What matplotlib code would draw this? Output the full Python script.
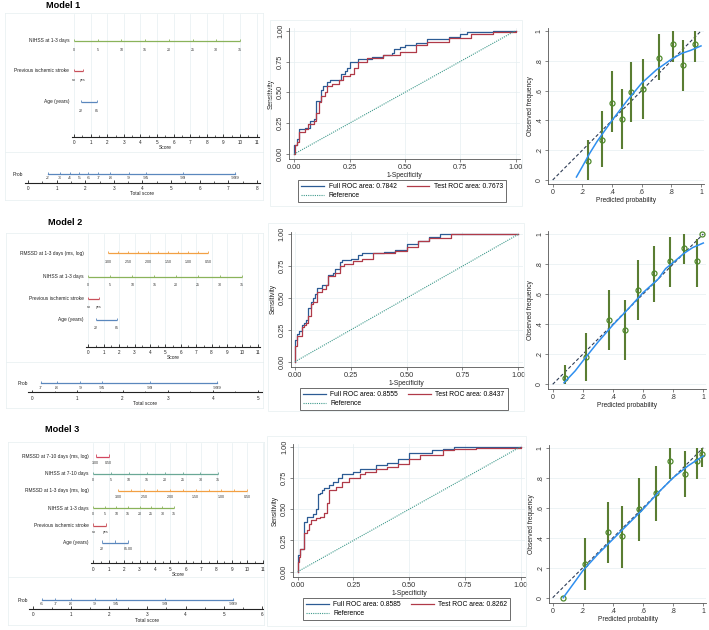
import numpy as np
import matplotlib.pyplot as plt
from matplotlib.patches import Rectangle

plt.rcParams['font.family'] = ['Liberation Sans', 'DejaVu Sans']

# ---------------- data ----------------
nihss_labels = ["0", "5", "10", "15", "20", "25", "30", "35"]
rmssd_labels = ["3.00", "", "2.50", "", "2.00", "", "1.50", "", "1.00", "", "0.50"]

# Model 1 nomogram (scores)
m1_nihss = [0, 1.43, 2.86, 4.29, 5.71, 7.14, 8.57, 10.0]
m1_prev = [0, 0.55]
m1_age = [0.42, 1.40]
m1_prob_labels = [".2", ".3", ".4", ".5", ".6", ".7", ".8", ".9", ".95", ".99", ".999"]
m1_prob_total = [0.685, 1.11, 1.46, 1.78, 2.10, 2.45, 2.88, 3.52, 4.11, 5.41, 7.24]

# Model 2 nomogram
m2_rmssd = [1.3, 1.95, 2.6, 3.25, 3.9, 4.55, 5.2, 5.85, 6.5, 7.15, 7.8]
m2_nihss = [0, 1.43, 2.86, 4.29, 5.71, 7.14, 8.57, 10.0]
m2_prev = [0, 0.70]
m2_age = [0.50, 1.88]
m2_prob_labels = [".7", ".8", ".9", ".95", ".99", ".999"]
m2_prob_total = [0.19, 0.54, 1.06, 1.54, 2.61, 4.10]

# Model 3 nomogram
m3_rmssd710 = [0.15, 1.0]
m3_nihss710 = [0, 1.16, 2.32, 3.48, 4.64, 5.80, 6.96, 8.12]
m3_rmssd13 = [1.62, 2.46, 3.30, 4.13, 4.97, 5.81, 6.65, 7.49, 8.32, 9.16, 10.0]
m3_nihss13 = [0, 0.75, 1.50, 2.25, 3.00, 3.74, 4.49, 5.24]
m3_prev = [0, 0.82]
m3_age = [0.58, 1.41, 2.27]
m3_prob_labels = [".6", ".7", ".8", ".9", ".95", ".99", ".999"]
m3_prob_total = [0.236, 0.584, 1.0, 1.63, 2.18, 3.46, 5.24]

# ROC curves (1-specificity, sensitivity)
roc1_full_fpr = [0, 0, 0.01, 0.02, 0.05, 0.07, 0.09, 0.10, 0.12, 0.13, 0.15, 0.16, 0.21, 0.23, 0.24, 0.25,
                 0.29, 0.35, 0.40, 0.44, 0.45, 0.48, 0.50, 0.55, 0.60, 0.70, 0.75, 0.78, 0.90, 1.0]
roc1_full_tpr = [0, 0.07, 0.12, 0.20, 0.21, 0.27, 0.28, 0.43, 0.52, 0.55, 0.58, 0.60, 0.65, 0.67, 0.70, 0.75,
                 0.77, 0.79, 0.80, 0.82, 0.85, 0.87, 0.88, 0.90, 0.93, 0.95, 0.97, 0.99, 1.0, 1.0]
roc1_test_fpr = [0, 0.005, 0.01, 0.02, 0.05, 0.06, 0.09, 0.10, 0.11, 0.12, 0.14, 0.15, 0.17, 0.20, 0.22,
                 0.25, 0.27, 0.29, 0.33, 0.40, 0.48, 0.55, 0.60, 0.70, 0.80, 0.90, 1.0]
roc1_test_tpr = [0.0, 0.07, 0.10, 0.18, 0.20, 0.24, 0.27, 0.33, 0.42, 0.47, 0.50, 0.55, 0.57, 0.60, 0.63,
                 0.65, 0.70, 0.75, 0.78, 0.80, 0.83, 0.88, 0.91, 0.94, 0.97, 0.99, 1.0]

roc2_full_fpr = [0, 0, 0.01, 0.02, 0.03, 0.04, 0.05, 0.06, 0.07, 0.08, 0.09, 0.10, 0.12, 0.15, 0.17, 0.18,
                 0.20, 0.21, 0.25, 0.28, 0.30, 0.40, 0.45, 0.50, 0.55, 0.60, 0.65, 1.0]
roc2_full_tpr = [0, 0.17, 0.22, 0.24, 0.29, 0.30, 0.33, 0.42, 0.47, 0.50, 0.53, 0.58, 0.60, 0.68, 0.70, 0.73,
                 0.78, 0.80, 0.81, 0.84, 0.85, 0.86, 0.88, 0.92, 0.95, 0.98, 1.0, 1.0]
roc2_test_fpr = [0, 0, 0.01, 0.03, 0.04, 0.05, 0.06, 0.07, 0.08, 0.10, 0.12, 0.14, 0.15, 0.18, 0.20, 0.22,
                 0.26, 0.30, 0.35, 0.45, 0.50, 0.55, 0.60, 0.70, 1.0]
roc2_test_tpr = [0, 0.12, 0.20, 0.27, 0.29, 0.30, 0.36, 0.45, 0.47, 0.55, 0.57, 0.60, 0.67, 0.70, 0.75, 0.77,
                 0.79, 0.81, 0.85, 0.87, 0.90, 0.95, 0.97, 1.0, 1.0]

roc3_full_fpr = [0, 0, 0.01, 0.03, 0.04, 0.07, 0.08, 0.09, 0.10, 0.11, 0.12, 0.14, 0.16, 0.18, 0.20, 0.25,
                 0.28, 0.35, 0.40, 0.45, 0.50, 0.60, 0.65, 0.70, 1.0]
roc3_full_tpr = [0, 0.13, 0.18, 0.40, 0.44, 0.46, 0.50, 0.62, 0.63, 0.65, 0.67, 0.69, 0.72, 0.75, 0.78, 0.80,
                 0.82, 0.85, 0.87, 0.90, 0.95, 0.97, 0.98, 1.0, 1.0]
roc3_test_fpr = [0, 0, 0.005, 0.01, 0.03, 0.04, 0.05, 0.06, 0.08, 0.10, 0.12, 0.13, 0.14, 0.17, 0.20, 0.23,
                 0.28, 0.30, 0.35, 0.40, 0.45, 0.50, 0.55, 0.65, 0.70, 0.80, 1.0]
roc3_test_tpr = [0, 0.08, 0.12, 0.18, 0.31, 0.33, 0.38, 0.41, 0.43, 0.44, 0.47, 0.55, 0.65, 0.68, 0.72, 0.75,
                 0.78, 0.80, 0.82, 0.84, 0.86, 0.90, 0.93, 0.97, 0.98, 0.99, 1.0]

roc_auc = [("0.7842", "0.7673"), ("0.8555", "0.8437"), ("0.8585", "0.8262")]

# Calibration
nan = np.nan
cal1_pred = [0.24, 0.33, 0.40, 0.47, 0.53, 0.61, 0.72, 0.81, 0.88, 0.96]
cal1_obs = [0.13, 0.27, 0.52, 0.41, 0.59, 0.61, 0.82, 0.91, 0.77, 0.91]
cal1_lo = [0.00, 0.09, 0.32, 0.21, 0.39, 0.41, 0.67, 0.79, 0.60, 0.79]
cal1_hi = [0.27, 0.46, 0.73, 0.61, 0.79, 0.81, 0.98, 1.00, 0.94, 1.00]
low1_x = [0.16, 0.20, 0.25, 0.30, 0.35, 0.40, 0.50, 0.60, 0.70, 0.80, 0.87, 0.93, 1.00]
low1_y = [0.02, 0.09, 0.18, 0.26, 0.33, 0.40, 0.53, 0.65, 0.74, 0.81, 0.85, 0.87, 0.90]

cal2_pred = [0.08, 0.22, 0.375, 0.48, 0.565, 0.67, 0.78, 0.875, 0.955, 0.99]
cal2_obs = [0.04, 0.18, 0.43, 0.36, 0.63, 0.74, 0.82, 0.91, 0.82, 1.00]
cal2_lo = [0.00, 0.02, 0.23, 0.16, 0.43, 0.55, 0.65, 0.80, 0.65, nan]
cal2_hi = [0.13, 0.34, 0.63, 0.56, 0.83, 0.92, 0.98, 1.00, 0.97, nan]
low2_x = [0.075, 0.15, 0.20, 0.30, 0.40, 0.50, 0.60, 0.70, 0.75, 0.80, 0.87, 0.93, 1.00]
low2_y = [0.01, 0.09, 0.155, 0.28, 0.395, 0.50, 0.61, 0.70, 0.77, 0.81, 0.87, 0.91, 0.94]

cal3_pred = [0.07, 0.215, 0.37, 0.46, 0.57, 0.685, 0.78, 0.88, 0.955, 0.99]
cal3_obs = [0.00, 0.225, 0.435, 0.41, 0.59, 0.695, 0.91, 0.825, 0.91, 0.955]
cal3_lo = [nan, 0.05, 0.23, 0.20, 0.38, 0.51, 0.79, 0.67, 0.79, 0.87]
cal3_hi = [nan, 0.40, 0.64, 0.61, 0.80, 0.88, 1.00, 0.98, 1.00, 1.00]
low3_x = [0.07, 0.15, 0.20, 0.30, 0.40, 0.50, 0.60, 0.70, 0.80, 0.90, 1.00]
low3_y = [0.00, 0.11, 0.18, 0.29, 0.39, 0.49, 0.59, 0.70, 0.80, 0.88, 0.945]

# ---------------- colours ----------------
c_green = "#8ab35a"
c_red = "#c9505a"
c_blue = "#5a87bd"
c_orange = "#f2a044"
c_teal = "#6aa896"
c_pink = "#d2455e"
border = "#e6eef0"
gridc = "#e6eff1"

W, H = 709, 630
fig = plt.figure(figsize=(W / 100, H / 100), dpi=100)


def px_axes(left, top, right, bottom):
    return fig.add_axes([left / W, 1 - bottom / H, (right - left) / W, (bottom - top) / H])


def data_axes(x0, x1, y0, y1, xlim, ylim):
    """axes placed so that data 0/1 fall on the given pixels"""
    sx, sy = x1 - x0, y0 - y1
    ax = px_axes(x0 + xlim[0] * sx, y0 - ylim[1] * sy, x0 + xlim[1] * sx, y0 - ylim[0] * sy)
    ax.set_xlim(xlim)
    ax.set_ylim(ylim)
    return ax


def frame(left, top, right, bottom, color=border):
    fig.add_artist(Rectangle((left / W, 1 - bottom / H), (right - left) / W, (bottom - top) / H,
                             transform=fig.transFigure, fill=False, ec=color, lw=0.5))


def nomo_axes(left, top, right, bottom, s0, su):
    ax = px_axes(left, top, right, bottom)
    ax.set_xlim((left - s0) / su, (right - s0) / su)
    ax.set_ylim(bottom, top)
    ax.set_xticks([])
    ax.set_yticks([])
    for sp in ax.spines.values():
        sp.set_color(border)
        sp.set_linewidth(0.5)
    return ax


def nomogram(lay, rows, prob_labels, prob_total, total_max):
    ax = nomo_axes(lay['left'], lay['top'], lay['right'], lay['mid'], lay['s0'], lay['su'])
    for k in range(12):
        ax.plot([k, k], [lay['top'] + 1, lay['score_y']], color=gridc, lw=0.5, zorder=0)
    for (label, color, pos, labs), y in zip(rows, lay['rows_y']):
        ax.plot([pos[0], pos[-1]], [y, y], color=color, lw=0.9, solid_capstyle='butt')
        ax.vlines(pos, y - 2.2, y, color=color, lw=0.6)
        for p, t in zip(pos, labs):
            ax.text(p, y + lay['off'], t, ha='center', va='center', fontsize=2.6, color='#333333')
        ax.text(-0.28, y, label, ha='right', va='center', fontsize=3.5, color='#222222')
    sy = lay['score_y']
    ax.plot([-0.15, 11.15], [sy, sy], color='#222222', lw=0.8)
    ax.vlines(np.arange(0, 12), sy - 3, sy, color='#222222', lw=0.6)
    ax.vlines(np.arange(0.5, 11, 1), sy - 1.8, sy, color='#222222', lw=0.5)
    for k in range(12):
        ax.text(k, sy + 6, str(k), ha='center', va='center', fontsize=3.3, color='#222222')
    ax.text(5.5, sy + 11, "Score", ha='center', va='center', fontsize=3.5, color='#222222')

    bx = nomo_axes(lay['left'], lay['mid'], lay['right'], lay['bottom'], lay['t0'], lay['tu'])
    py = lay['prob_y']
    bx.plot([prob_total[0], prob_total[-1]], [py, py], color=c_blue, lw=0.9)
    bx.vlines(prob_total, py - 2, py, color=c_blue, lw=0.6)
    for p, t in zip(prob_total, prob_labels):
        bx.text(p, py + 4.3, t, ha='center', va='center', fontsize=3.2, color='#222222')
    bx.text((lay['prob_x'] - lay['t0']) / lay['tu'], py, "Prob", ha='left', va='center',
            fontsize=3.5, color='#222222')
    ty = lay['total_y']
    bx.plot([-0.1, total_max + 0.1], [ty, ty], color='#222222', lw=0.8)
    bx.vlines(np.arange(0, total_max + 1), ty - 2.8, ty, color='#222222', lw=0.6)
    bx.vlines(np.arange(0.5, total_max, 1), ty - 1.6, ty, color='#222222', lw=0.5)
    for k in range(total_max + 1):
        bx.text(k, ty + 6, str(k), ha='center', va='center', fontsize=3.3, color='#222222')
    bx.text(total_max / 2, ty + 11, "Total score", ha='center', va='center', fontsize=3.5, color='#222222')
    fig.text(lay['title_x'] / W, 1 - lay['title_y'] / H, lay['title'], ha='center', va='center',
             fontsize=6.6, fontweight='bold')


def style_axes(ax, ylabel, xlabel, lsize):
    for s in ['top', 'right']:
        ax.spines[s].set_visible(False)
    for s in ['left', 'bottom']:
        ax.spines[s].set_color('#555555')
        ax.spines[s].set_linewidth(0.6)
    ax.tick_params(length=2.5, width=0.5, color='#555555', labelsize=lsize, pad=1.2, labelcolor='#333333')
    ax.tick_params(axis='y', labelrotation=90)
    for t in ax.get_yticklabels():
        t.set_va('center')
    ax.set_ylabel(ylabel, fontsize=4.8, labelpad=1.5, color='#222222')
    ax.set_xlabel(xlabel, fontsize=4.8, labelpad=0.5, color='#222222')
    ax.set_axisbelow(True)


def roc_plot(lay, full_fpr, full_tpr, test_fpr, test_tpr, aucs):
    x0, x1, y0, y1 = lay['x0'], lay['x1'], lay['y0'], lay['y1']
    xlim = ((lay['sx'] - x0) / (x1 - x0), 1.02)
    ylim = (-(lay['sy'] - y0) / (y0 - y1), 1.02)
    ax = data_axes(x0, x1, y0, y1, xlim, ylim)
    ticks = [0, 0.25, 0.5, 0.75, 1.0]
    ax.set_xticks(ticks)
    ax.set_yticks(ticks)
    ax.set_xticklabels(["%.2f" % t for t in ticks])
    ax.set_yticklabels(["%.2f" % t for t in ticks])
    ax.grid(color=gridc, lw=0.5)
    h1, = ax.step(full_fpr, full_tpr, where='post', color='#2c5b94', lw=0.9)
    h2, = ax.step(test_fpr, test_tpr, where='post', color='#b03a48', lw=0.9)
    h3, = ax.plot([0, 1], [0, 1], color='#3f9a8c', lw=0.8, linestyle=(0, (1, 1)))
    style_axes(ax, "Sensitivity", "1-Specificity", 5.3)
    lg = ax.legend([h1, h3, h2], ["Full ROC area: " + aucs[0], "Reference", "Test ROC area: " + aucs[1]],
                   ncol=2, loc='upper left', bbox_to_anchor=(lay['lx'] / W, 1 - lay['ly'] / H),
                   bbox_transform=fig.transFigure, fontsize=4.9, handlelength=3.3, handletextpad=0.7,
                   columnspacing=1.5, borderpad=0.45, labelspacing=0.3, fancybox=False,
                   framealpha=1, edgecolor='#555555', borderaxespad=0)
    lg.get_frame().set_linewidth(0.6)
    frame(*lay['frame'])


def cal_plot(lay, pred, obs, lo, hi, lx, ly):
    x0, x1, y0, y1 = lay['x0'], lay['x1'], lay['y0'], lay['y1']
    xlim = ((lay['sx'] - x0) / (x1 - x0), 1.02)
    ylim = (-(lay['sy'] - y0) / (y0 - y1), 1.02)
    ax = data_axes(x0, x1, y0, y1, xlim, ylim)
    ticks = [0, 0.2, 0.4, 0.6, 0.8, 1.0]
    labs = ["0", ".2", ".4", ".6", ".8", "1"]
    ax.set_xticks(ticks)
    ax.set_yticks(ticks)
    ax.set_xticklabels(labs)
    ax.set_yticklabels(labs)
    ax.grid(axis='y', color=gridc, lw=0.5)
    ax.plot([0, 1], [0, 1], color='#2e3c55', lw=0.8, linestyle=(0, (3, 2)))
    ax.vlines(pred, lo, hi, color='#5a7d32', lw=1.5)
    ax.plot(pred, obs, 'o', ms=3.6, mfc='none', mec='#4f8a2c', mew=0.9)
    ax.plot(lx, ly, color='#2f8fef', lw=1.1)
    style_axes(ax, "Observed frequency", "Predicted probability", 5.0)


# ---------------- nomograms ----------------
lay1 = dict(left=5, right=263, top=13, mid=152, bottom=200, s0=74, su=16.6, t0=28, tu=28.6,
            rows_y=[40.7, 71, 102], off=9, score_y=136.7, prob_y=174, total_y=182.7, prob_x=13,
            title="Model 1", title_x=63.5, title_y=5.5)
rows1 = [("NIHSS at 1-3 days", c_green, m1_nihss, nihss_labels),
         ("Previous ischemic stroke", c_red, m1_prev, ["no", "yes"]),
         ("Age (years)", c_blue, m1_age, ["22", "85"])]
nomogram(lay1, rows1, m1_prob_labels, m1_prob_total, 8)

lay2 = dict(left=6, right=263, top=233, mid=362, bottom=408, s0=88.3, su=15.4, t0=32.3, tu=45.1,
            rows_y=[253.3, 276.7, 298.7, 320], off=8.3, score_y=346.7, prob_y=383.3, total_y=392.3,
            prob_x=18, title="Model 2", title_x=65.5, title_y=222.5)
rows2 = [("RMSSD at 1-3 days (ms, log)", c_orange, m2_rmssd, rmssd_labels),
         ("NIHSS at 1-3 days", c_green, m2_nihss, nihss_labels),
         ("Previous ischemic stroke", c_red, m2_prev, ["no", "yes"]),
         ("Age (years)", c_blue, m2_age, ["22", "85"])]
nomogram(lay2, rows2, m2_prob_labels, m2_prob_total, 5)

lay3 = dict(left=8, right=264, top=442, mid=577, bottom=625, s0=93.3, su=15.4, t0=32.7, tu=38.2,
            rows_y=[456.7, 474, 491, 508.3, 525.7, 542.7], off=6, score_y=563.3, prob_y=600,
            total_y=609, prob_x=18, title="Model 3", title_x=62, title_y=429.5)
rows3 = [("RMSSD at 7-10 days (ms, log)", c_pink, m3_rmssd710, ["3.00", "0.50"]),
         ("NIHSS at 7-10 days", c_teal, m3_nihss710, nihss_labels),
         ("RMSSD at 1-3 days (ms, log)", c_orange, m3_rmssd13, rmssd_labels),
         ("NIHSS at 1-3 days", c_green, m3_nihss13, nihss_labels),
         ("Previous ischemic stroke", c_red, m3_prev, ["no", "yes"]),
         ("Age (years)", c_blue, m3_age, ["22", "", "85.00"])]
nomogram(lay3, rows3, m3_prob_labels, m3_prob_total, 6)

# ---------------- ROC ----------------
roc_lay = [dict(x0=294.3, x1=515.5, y0=154, y1=30.7, sx=289.3, sy=159.3, lx=298.3, ly=180,
                frame=(270, 20, 522, 206)),
           dict(x0=295, x1=518.3, y0=361.7, y1=234.3, sx=291, sy=366.7, lx=300, ly=388.3,
                frame=(268, 223, 524, 411)),
           dict(x0=297.7, x1=520.7, y0=571.7, y1=446.7, sx=293.3, sy=576.7, lx=303, ly=598.3,
                frame=(267, 436, 526, 626))]
roc_plot(roc_lay[0], roc1_full_fpr, roc1_full_tpr, roc1_test_fpr, roc1_test_tpr, roc_auc[0])
roc_plot(roc_lay[1], roc2_full_fpr, roc2_full_tpr, roc2_test_fpr, roc2_test_tpr, roc_auc[1])
roc_plot(roc_lay[2], roc3_full_fpr, roc3_full_tpr, roc3_test_fpr, roc3_test_tpr, roc_auc[2])

# ---------------- calibration ----------------
cal_lay = [dict(x0=552.7, x1=701, y0=180, y1=31, sx=548, sy=184.3),
           dict(x0=552.7, x1=703.3, y0=384.3, y1=234, sx=548.3, sy=389.3),
           dict(x0=552.7, x1=703.3, y0=597.7, y1=447.7, sx=549, sy=603.3)]
cal_plot(cal_lay[0], cal1_pred, cal1_obs, cal1_lo, cal1_hi, low1_x, low1_y)
cal_plot(cal_lay[1], cal2_pred, cal2_obs, cal2_lo, cal2_hi, low2_x, low2_y)
cal_plot(cal_lay[2], cal3_pred, cal3_obs, cal3_lo, cal3_hi, low3_x, low3_y)

fig.savefig("out.png", dpi=100)
